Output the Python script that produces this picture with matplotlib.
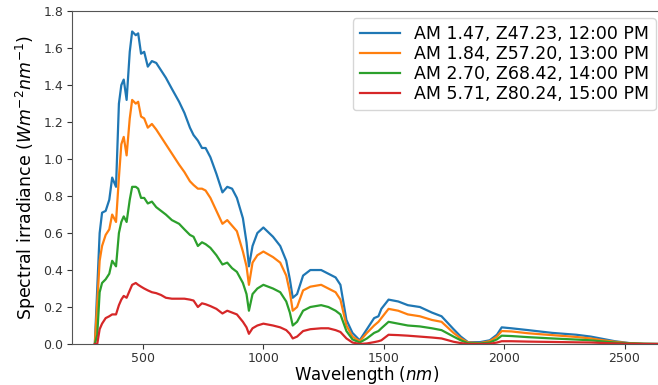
import matplotlib
matplotlib.use("Agg")
import matplotlib.pyplot as plt

# wavelength grid (nm)
wl = [300, 310, 320, 330, 345, 360, 372, 388, 400, 410, 420, 432, 445, 455, 470, 480,
      492, 505, 520, 537, 555, 575, 595, 620, 650, 672, 695, 710, 728, 745, 760, 780,
      805, 830, 850, 870, 890, 915, 930, 940, 955, 975, 1000, 1040, 1070, 1095, 1110,
      1122, 1140, 1165, 1195, 1240, 1270, 1300, 1320, 1345, 1370, 1400, 1430, 1460,
      1478, 1490, 1520, 1560, 1600, 1650, 1700, 1740, 1790, 1820, 1850, 1900, 1940,
      1970, 1990, 2030, 2100, 2200, 2300, 2360, 2400, 2460, 2520, 2580, 2650]

am147 = [0, 0.30, 0.60, 0.71, 0.72, 0.78, 0.90, 0.85, 1.30, 1.40, 1.43, 1.32, 1.58, 1.69,
         1.67, 1.68, 1.57, 1.58, 1.50, 1.53, 1.52, 1.48, 1.44, 1.38, 1.31, 1.25, 1.17, 1.13,
         1.10, 1.06, 1.06, 1.01, 0.92, 0.82, 0.85, 0.84, 0.79, 0.68, 0.55, 0.42, 0.53, 0.60,
         0.63, 0.58, 0.53, 0.45, 0.35, 0.25, 0.27, 0.37, 0.40, 0.40, 0.38, 0.36, 0.32, 0.13,
         0.06, 0.02, 0.08, 0.14, 0.15, 0.19, 0.24, 0.23, 0.21, 0.20, 0.17, 0.15, 0.08, 0.04,
         0.01, 0.01, 0.02, 0.05, 0.09, 0.085, 0.075, 0.06, 0.05, 0.04, 0.03, 0.015, 0.005,
         0.001, 0]

am184 = [0, 0.22, 0.45, 0.53, 0.59, 0.62, 0.70, 0.66, 0.90, 1.08, 1.12, 1.02, 1.22, 1.32,
         1.30, 1.31, 1.23, 1.22, 1.17, 1.19, 1.16, 1.12, 1.08, 1.03, 0.97, 0.93, 0.88, 0.86,
         0.84, 0.84, 0.83, 0.79, 0.72, 0.65, 0.67, 0.64, 0.61, 0.50, 0.42, 0.32, 0.44, 0.48,
         0.50, 0.47, 0.44, 0.37, 0.28, 0.18, 0.20, 0.29, 0.31, 0.32, 0.30, 0.28, 0.24, 0.10,
         0.04, 0.015, 0.06, 0.10, 0.12, 0.14, 0.19, 0.18, 0.16, 0.15, 0.13, 0.12, 0.06, 0.03,
         0.008, 0.005, 0.015, 0.04, 0.07, 0.068, 0.058, 0.048, 0.038, 0.03, 0.022, 0.012,
         0.004, 0.001, 0]

am270 = [0, 0.05, 0.28, 0.33, 0.35, 0.38, 0.45, 0.42, 0.60, 0.66, 0.69, 0.66, 0.78, 0.85,
         0.85, 0.84, 0.79, 0.79, 0.76, 0.77, 0.74, 0.72, 0.70, 0.67, 0.65, 0.62, 0.59, 0.58,
         0.53, 0.55, 0.54, 0.52, 0.48, 0.43, 0.44, 0.41, 0.39, 0.33, 0.27, 0.18, 0.27, 0.30,
         0.32, 0.30, 0.28, 0.23, 0.17, 0.10, 0.12, 0.18, 0.20, 0.21, 0.20, 0.18, 0.16, 0.07,
         0.025, 0.008, 0.03, 0.06, 0.07, 0.085, 0.12, 0.11, 0.10, 0.095, 0.085, 0.075, 0.04,
         0.02, 0.004, 0.003, 0.008, 0.025, 0.045, 0.043, 0.037, 0.03, 0.024, 0.02, 0.015,
         0.008, 0.003, 0.001, 0]

am571 = [0, 0.0, 0.08, 0.11, 0.14, 0.15, 0.16, 0.16, 0.21, 0.24, 0.26, 0.25, 0.29, 0.32,
         0.33, 0.32, 0.31, 0.30, 0.29, 0.28, 0.275, 0.265, 0.25, 0.245, 0.245, 0.245, 0.24,
         0.235, 0.20, 0.22, 0.215, 0.205, 0.19, 0.165, 0.18, 0.17, 0.16, 0.12, 0.09, 0.055,
         0.085, 0.10, 0.11, 0.10, 0.09, 0.075, 0.055, 0.03, 0.04, 0.07, 0.08, 0.085, 0.085,
         0.075, 0.065, 0.03, 0.008, 0.0, 0.003, 0.01, 0.015, 0.02, 0.05, 0.048, 0.045, 0.04,
         0.035, 0.03, 0.012, 0.005, 0.0, 0, 0.001, 0.008, 0.015, 0.015, 0.013, 0.011, 0.009,
         0.008, 0.006, 0.003, 0.001, 0, 0]

labels = ["AM 1.47, Z47.23, 12:00 PM", "AM 1.84, Z57.20, 13:00 PM",
          "AM 2.70, Z68.42, 14:00 PM", "AM 5.71, Z80.24, 15:00 PM"]

fig = plt.figure(figsize=(6.58, 3.85), dpi=100)
ax = fig.add_axes([0.109, 0.1065, 0.895, 0.8645])

for series, lab in zip([am147, am184, am270, am571], labels):
    ax.plot(wl, series, linewidth=1.6, label=lab)

ax.set_xlim(204, 2650)
ax.set_ylim(0, 1.8)
ax.set_xticks([500, 1000, 1500, 2000, 2500])
ax.set_yticks([0.0, 0.2, 0.4, 0.6, 0.8, 1.0, 1.2, 1.4, 1.6, 1.8])
ax.tick_params(labelsize=9, colors="#333333", pad=2.5)
for s in ax.spines.values():
    s.set_color("#555555")

ax.set_xlabel("Wavelength ($nm$)", fontsize=12, labelpad=-1)
ax.set_ylabel("Spectral irradiance ($Wm^{-2}nm^{-1}$)", fontsize=12.5, labelpad=4)

ax.legend(loc="upper right", fontsize=12.5, labelspacing=0.12, handlelength=2.3,
          handletextpad=0.8, borderaxespad=0, bbox_to_anchor=(0.9915, 0.979))

fig.savefig("out.png", dpi=100)
